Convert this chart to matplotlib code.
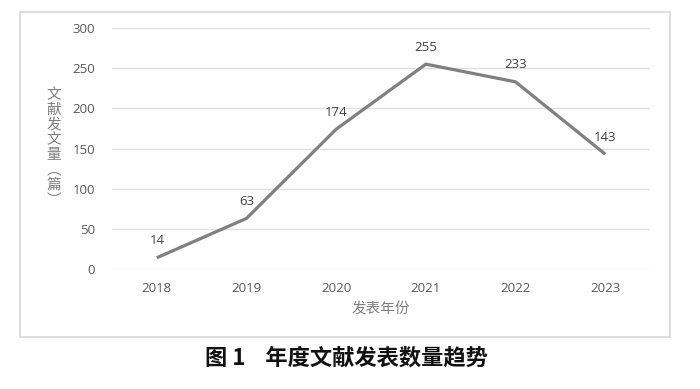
import matplotlib.pyplot as plt
from matplotlib.patches import Rectangle

years = ['2018', '2019', '2020', '2021', '2022', '2023']
counts = [14, 63, 174, 255, 233, 143]
yticks = [0, 50, 100, 150, 200, 250, 300]
ylabel_chars = ['文', '献', '发', '文', '量', '︵', '篇', '︶']

plt.rcParams['font.family'] = ['Noto Sans CJK SC', 'DejaVu Sans']

W, H = 700, 389
fig = plt.figure(figsize=(7, 3.89), dpi=100)
fig.patch.set_facecolor('white')

# outer border of the chart area
fig.patches.append(Rectangle((20 / W, 1 - 337 / H), 650 / W, 325 / H,
                             transform=fig.transFigure, fill=False,
                             edgecolor='#d9d9d9', linewidth=1.2))

ax = fig.add_axes([112 / W, 1 - 269 / H, 538 / W, 241 / H])
x = list(range(len(years)))
ax.plot(x, counts, color='#808080', linewidth=2.3, solid_capstyle='butt')
for xi, v in zip(x, counts):
    ax.annotate(str(v), (xi, v), xytext=(0, 7.5), textcoords='offset points',
                ha='center', va='bottom', fontsize=9.5, color='#404040',
                family=['Open Sans', 'DejaVu Sans'])

ax.set_xlim(-0.5, len(years) - 0.5)
ax.set_ylim(0, 300)
ax.set_yticks(yticks)
ax.set_xticks(x)
ax.set_xticklabels(years)
ax.grid(axis='y', color='#e0e0e0', linewidth=1)
ax.set_axisbelow(True)
for s in ax.spines.values():
    s.set_visible(False)
ax.tick_params(length=0, labelsize=9.5, labelcolor='#595959', pad=12)
for lab in ax.get_xticklabels() + ax.get_yticklabels():
    lab.set_family(['Open Sans', 'DejaVu Sans'])
ax.tick_params(axis='x', pad=9)

ax.set_xlabel('发表年份', fontsize=10.5, color='#7f7f7f', labelpad=6)

# vertical y label, one character per row
for i, ch in enumerate(ylabel_chars):
    fig.text(54 / W, 1 - (95 + i * 15) / H, ch, ha='center', va='center',
             fontsize=10.5, color='#7f7f7f')

fig.text(346 / W, 1 - 358 / H, '图 1    年度文献发表数量趋势', ha='center',
         va='center', fontsize=16, fontweight='bold', color='#111111')

fig.savefig('out.png', dpi=100)
